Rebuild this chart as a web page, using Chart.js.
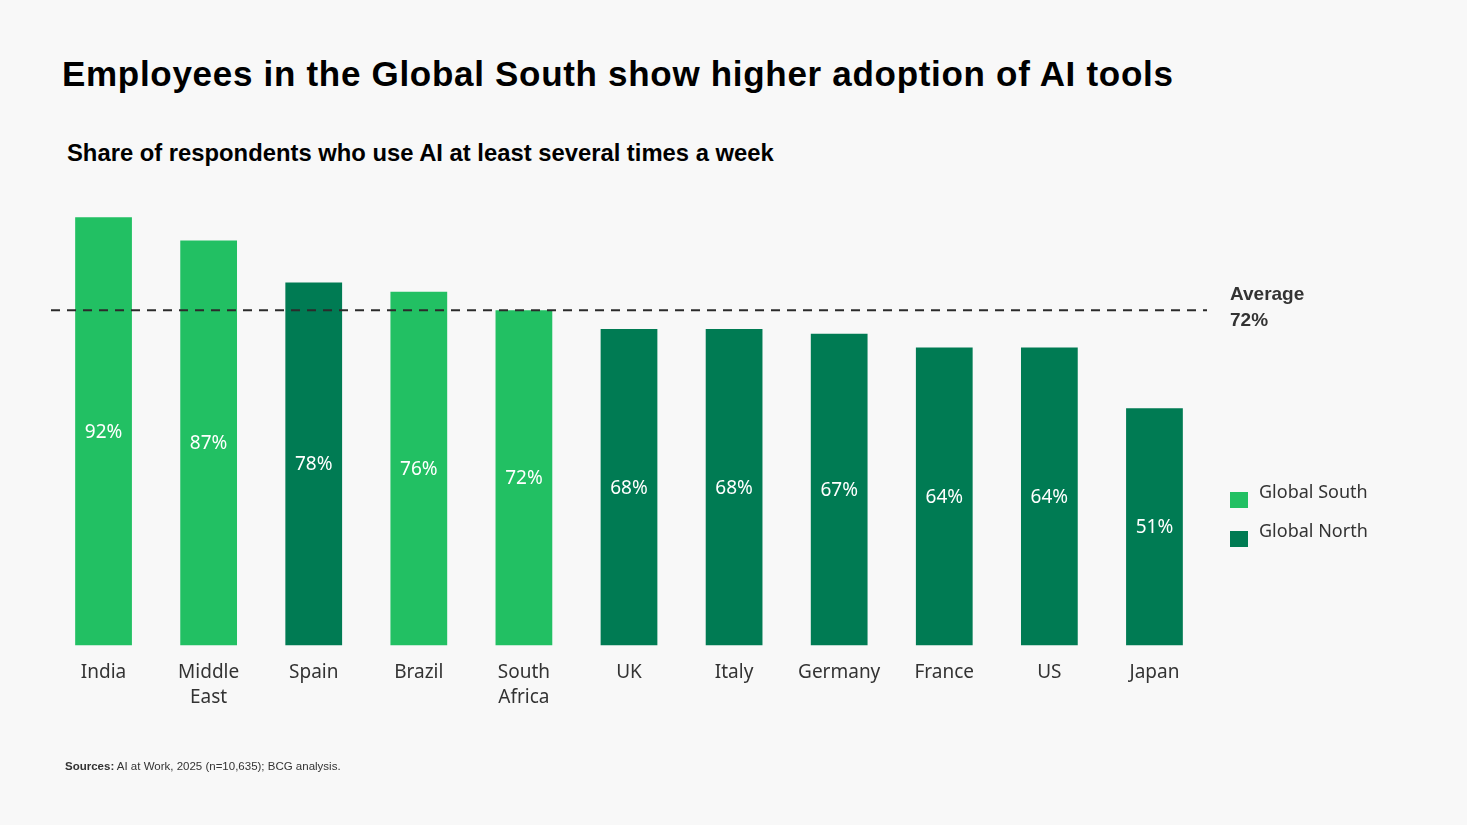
<!DOCTYPE html>
<html>
<head>
<meta charset="utf-8">
<script src="https://cdn.jsdelivr.net/npm/chart.js@4"></script>
<style>
  html, body { margin: 0; padding: 0; background: #f8f8f8; }
  body { width: 1467px; height: 825px; position: relative; overflow: hidden; }
  #wrap { position: absolute; left: 0; top: 0; width: 1467px; height: 825px; }
  h1 {
    position: absolute; left: 62px; top: 54px; margin: 0;
    font: bold 35px "Liberation Sans", Arial, sans-serif; color: #000;
    letter-spacing: 0.7px;
  }
  h2 {
    position: absolute; left: 67px; top: 139px; margin: 0;
    font: bold 23.8px "Liberation Sans", Arial, sans-serif; color: #000;
  }
  .source {
    position: absolute; left: 65px; top: 760px;
    font: 11.5px "Liberation Sans", Arial, sans-serif; color: #333;
  }
</style>
</head>
<body>
<h1>Employees in the Global South show higher adoption of AI tools</h1>
<h2>Share of respondents who use AI at least several times a week</h2>
<div id="wrap"><canvas id="adoption"></canvas></div>
<div class="source"><b>Sources:</b> AI at Work, 2025 (n=10,635); BCG analysis.</div>

<script>
// Data
const countries = ["India", ["Middle", "East"], "Spain", "Brazil", ["South", "Africa"],
  "UK", "Italy", "Germany", "France", "US", "Japan"];
const shares = [92, 87, 78, 76, 72, 68, 68, 67, 64, 64, 51];
const regions = ["South", "South", "North", "South", "South",
  "North", "North", "North", "North", "North", "North"];
const averageShare = 72;

const southColor = "#22c063";
const northColor = "#007b53";
const textColor = "#333333";

const southData = shares.map((v, i) => regions[i] === "South" ? v : null);
const northData = shares.map((v, i) => regions[i] === "North" ? v : null);

// Labels inside bars, average line and legend
const extras = {
  id: "extras",
  afterDatasetsDraw(chart) {
    const { ctx, chartArea, scales } = chart;

    // value labels
    ctx.save();
    ctx.fillStyle = "#ffffff";
    ctx.font = "19px 'Noto Sans', sans-serif";
    ctx.textAlign = "center";
    ctx.textBaseline = "middle";
    chart.data.datasets.forEach((ds, di) => {
      chart.getDatasetMeta(di).data.forEach((bar, i) => {
        if (ds.data[i] == null) return;
        const mid = (bar.y + bar.base) / 2;
        ctx.fillText(ds.data[i] + "%", bar.x, mid + 1);
      });
    });
    ctx.restore();

    // average line
    const y = scales.y.getPixelForValue(averageShare);
    ctx.save();
    ctx.strokeStyle = "#2b2b2b";
    ctx.lineWidth = 2;
    ctx.setLineDash([9, 7]);
    ctx.beginPath();
    ctx.moveTo(chartArea.left, y);
    ctx.lineTo(chartArea.right, y);
    ctx.stroke();
    ctx.restore();

    ctx.save();
    ctx.fillStyle = textColor;
    ctx.font = "bold 19px 'Liberation Sans', Arial, sans-serif";
    ctx.textAlign = "left";
    ctx.textBaseline = "middle";
    ctx.fillText("Average", chartArea.right + 23, y - 16);
    ctx.fillText(averageShare + "%", chartArea.right + 23, y + 10);
    ctx.restore();

    // legend
    ctx.save();
    ctx.font = "18px 'Noto Sans', sans-serif";
    ctx.textBaseline = "middle";
    chart.data.datasets.forEach((ds, di) => {
      const top = 492 + di * 39;
      ctx.fillStyle = ds.backgroundColor;
      ctx.fillRect(chartArea.right + 23, top, 18, 16);
      ctx.fillStyle = textColor;
      ctx.fillText(ds.label, chartArea.right + 52, top + 1);
    });
    ctx.restore();
  }
};

new Chart(document.getElementById("adoption"), {
  type: "bar",
  data: {
    labels: countries,
    datasets: [
      { label: "Global South", data: southData, backgroundColor: southColor },
      { label: "Global North", data: northData, backgroundColor: northColor }
    ]
  },
  options: {
    responsive: true,
    maintainAspectRatio: false,
    animation: false,
    categoryPercentage: 1,
    barPercentage: 0.54,
    layout: {
      padding: { left: 51, right: 260, top: 180, bottom: 100 }
    },
    plugins: {
      legend: { display: false },
      tooltip: { enabled: false }
    },
    scales: {
      x: {
        stacked: true,
        grid: { display: false, drawTicks: false },
        border: { display: false },
        ticks: {
          padding: 15,
          color: textColor,
          font: { family: "'Noto Sans', sans-serif", size: 19, lineHeight: 1.3 }
        }
      },
      y: {
        stacked: true,
        display: false,
        min: 0,
        max: 100
      }
    }
  },
  plugins: [extras]
});
</script>
</body>
</html>
